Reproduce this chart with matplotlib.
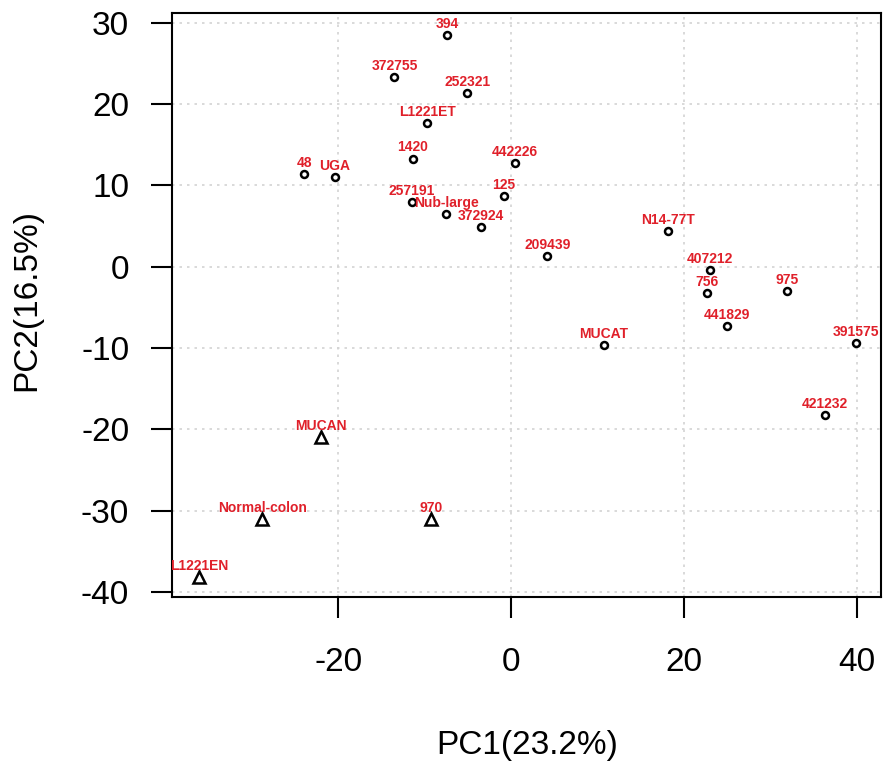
import matplotlib.pyplot as plt

plt.rcParams['font.family'] = ['Liberation Sans', 'DejaVu Sans']
plt.rcParams['axes.unicode_minus'] = False

# samples plotted with open circles
circ_names = ["394", "372755", "252321", "L1221ET", "1420", "442226", "48", "UGA",
              "257191", "Nub-large", "125", "372924", "N14-77T", "209439", "407212",
              "756", "975", "441829", "MUCAT", "391575", "421232"]
circ_pc1 = [-7.4, -13.5, -5.05, -9.7, -11.4, 0.4, -23.9, -20.4,
            -11.5, -7.5, -0.85, -3.5, 18.1, 4.2, 23.0,
            22.6, 31.9, 25.0, 10.75, 39.9, 36.3]
circ_pc2 = [28.5, 23.3, 21.4, 17.7, 13.3, 12.7, 11.35, 11.0,
            7.96, 6.5, 8.7, 4.9, 4.4, 1.27, -0.37,
            -3.2, -2.95, -7.3, -9.6, -9.4, -18.3]

# samples plotted with open triangles
tri_names = ["MUCAN", "Normal-colon", "970", "L1221EN"]
tri_pc1 = [-22.0, -28.8, -9.3, -36.1]
tri_pc2 = [-21.0, -31.0, -31.0, -38.2]

x_ticks = [-20, 0, 20, 40]
y_ticks = [30, 20, 10, 0, -10, -20, -30, -40]

fig = plt.figure(figsize=(8.83, 7.65), dpi=100)
ax = fig.add_axes([0.195, 0.22, 0.803, 0.763])

ax.set_xlim(-39.2, 42.8)
ax.set_ylim(-40.6, 31.2)
ax.set_xticks(x_ticks)
ax.set_yticks(y_ticks)
ax.grid(True, color='#d3d3d3', linestyle=(0, (1.5, 3)), linewidth=1.2)
ax.set_axisbelow(True)

ax.plot(circ_pc1, circ_pc2, linestyle='none', marker='o', markersize=5,
        markerfacecolor='white', markeredgecolor='black', markeredgewidth=1.8)
ax.plot(tri_pc1, tri_pc2, linestyle='none', marker='^', markersize=8,
        markerfacecolor='white', markeredgecolor='black', markeredgewidth=1.8)

red = '#E0202A'
for names, xs, ys in [(circ_names, circ_pc1, circ_pc2), (tri_names, tri_pc1, tri_pc2)]:
    for n, x, y in zip(names, xs, ys):
        ax.annotate(n, (x, y), xytext=(0, 8), textcoords='offset points',
                    ha='center', va='center', color=red, fontsize=10,
                    fontweight='bold', annotation_clip=False, clip_on=True)

for s in ax.spines.values():
    s.set_linewidth(1.5)
ax.tick_params(axis='both', length=15, width=1.5, labelsize=24)
ax.tick_params(axis='x', pad=21)
ax.tick_params(axis='y', pad=16)

ax.set_xlabel('PC1(23.2%)', fontsize=24, labelpad=38)
ax.set_ylabel('PC2(16.5%)', fontsize=24)
ax.yaxis.set_label_coords(-0.183, 0.509)

plt.savefig('out.png', dpi=100)
